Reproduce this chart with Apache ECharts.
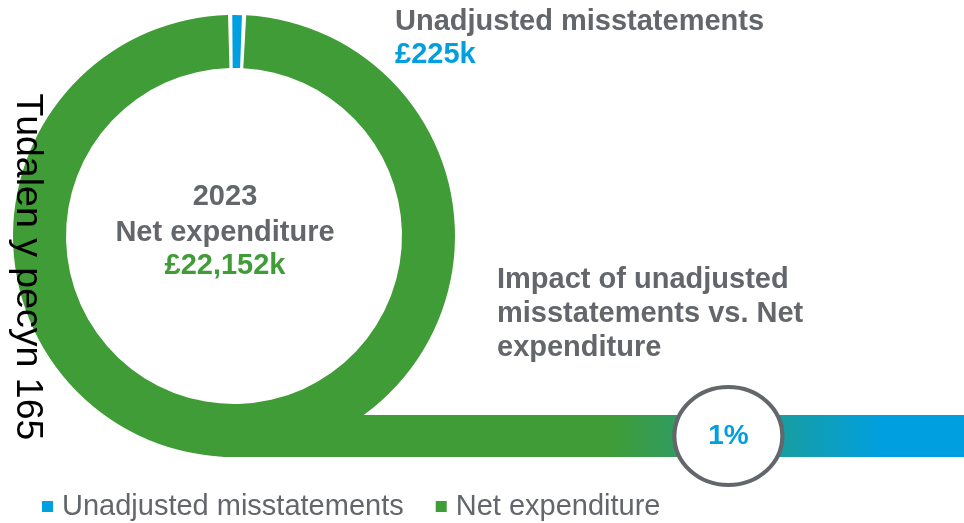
<!DOCTYPE html>
<html>
<head>
<meta charset="utf-8">
<title>Net expenditure</title>
<script src="https://cdn.jsdelivr.net/npm/echarts@6/dist/echarts.min.js"></script>
<style type="text/css">
html, body { margin: 0; padding: 0; background: #fff; }
#chart { width: 964px; height: 523px; }
</style>
</head>
<body>
<div id="chart"></div>
<script type="text/javascript">
// data
var year = '2023';
var names = ['Unadjusted misstatements', 'Net expenditure'];
var values = [225, 22152];          // £k
var colors = ['#009fe0', '#409c36'];
var impactTitle = ['Impact of unadjusted', 'misstatements vs. Net', 'expenditure'];
var barScale = [100];               // full-width bar (0-100)
var markerPos = [68.2];             // where the % bubble sits on the bar

var gray = '#63666a';
var font = '"Liberation Sans", Arial, sans-serif';
var pct = Math.round(values[0] / values[1] * 100) + '%';

function fmt(v) {
    return '£' + v.toLocaleString('en-GB') + 'k';
}

var Chart = echarts.init(document.getElementById('chart'));

var option = {
    animation: false,
    legend: {
        data: names,
        left: 37,
        top: 487,
        icon: 'rect',
        itemWidth: 11,
        itemHeight: 11,
        itemGap: 32,
        textStyle: { fontFamily: font, fontSize: 29, color: gray, padding: [0, 0, 0, 4] }
    },
    grid: {
        left: 223,
        right: 0,
        top: 415,
        height: 42
    },
    xAxis: { type: 'value', min: 0, max: 100, show: false },
    yAxis: { type: 'category', data: ['bar'], show: false },
    series: [
        {
            // the donut
            type: 'pie',
            z: 1,
            center: [234, 236],
            radius: [168, 221],
            startAngle: 91,
            padAngle: 1.1,
            label: { show: false },
            labelLine: { show: false },
            emphasis: { disabled: true },
            data: names.map(function (n, i) {
                return { name: n, value: values[i], itemStyle: { color: colors[i] } };
            })
        },
        {
            // the tail bar
            type: 'bar',
            z: 3,
            barWidth: 42,
            silent: true,
            itemStyle: {
                color: new echarts.graphic.LinearGradient(0, 0, 1, 0, [
                    { offset: 0, color: colors[1] },
                    { offset: 0.52, color: colors[1] },
                    { offset: 0.89, color: colors[0] },
                    { offset: 1, color: colors[0] }
                ])
            },
            data: barScale
        },
        {
            // the % bubble
            type: 'scatter',
            z: 4,
            symbol: 'circle',
            symbolSize: [108, 98],
            silent: true,
            itemStyle: { color: '#fff', borderColor: gray, borderWidth: 4, opacity: 1 },
            label: {
                show: true,
                position: 'inside',
                formatter: pct,
                fontFamily: font,
                fontWeight: 'bold',
                fontSize: 28,
                color: colors[0]
            },
            data: markerPos.map(function (x) { return [x, 'bar']; })
        }
    ],
    graphic: [
        {
            type: 'text', left: 395, top: 7, z: 10,
            style: { text: names[0], font: 'bold 29px ' + font, fill: gray }
        },
        {
            type: 'text', left: 395, top: 40, z: 10,
            style: { text: fmt(values[0]), font: 'bold 29px ' + font, fill: colors[0] }
        },
        {
            type: 'text', x: 225, y: 197, z: 10,
            style: { text: year, font: 'bold 29px ' + font, fill: gray, align: 'center', verticalAlign: 'middle' }
        },
        {
            type: 'text', x: 225, y: 233, z: 10,
            style: { text: names[1], font: 'bold 29px ' + font, fill: gray, align: 'center', verticalAlign: 'middle' }
        },
        {
            type: 'text', x: 225, y: 266, z: 10,
            style: { text: fmt(values[1]), font: 'bold 29px ' + font, fill: colors[1], align: 'center', verticalAlign: 'middle' }
        },
        {
            type: 'text', left: 497, top: 263, z: 10,
            style: { text: impactTitle.join('\n'), font: 'bold 29px ' + font, lineHeight: 34, fill: gray }
        },
        {
            type: 'text', x: 27, y: 267, rotation: -Math.PI / 2, z: 10,
            style: { text: 'Tudalen y pecyn 165', font: '37.5px ' + font, fill: '#000', align: 'center', verticalAlign: 'middle' }
        }
    ]
};

Chart.setOption(option);
</script>
</body>
</html>
